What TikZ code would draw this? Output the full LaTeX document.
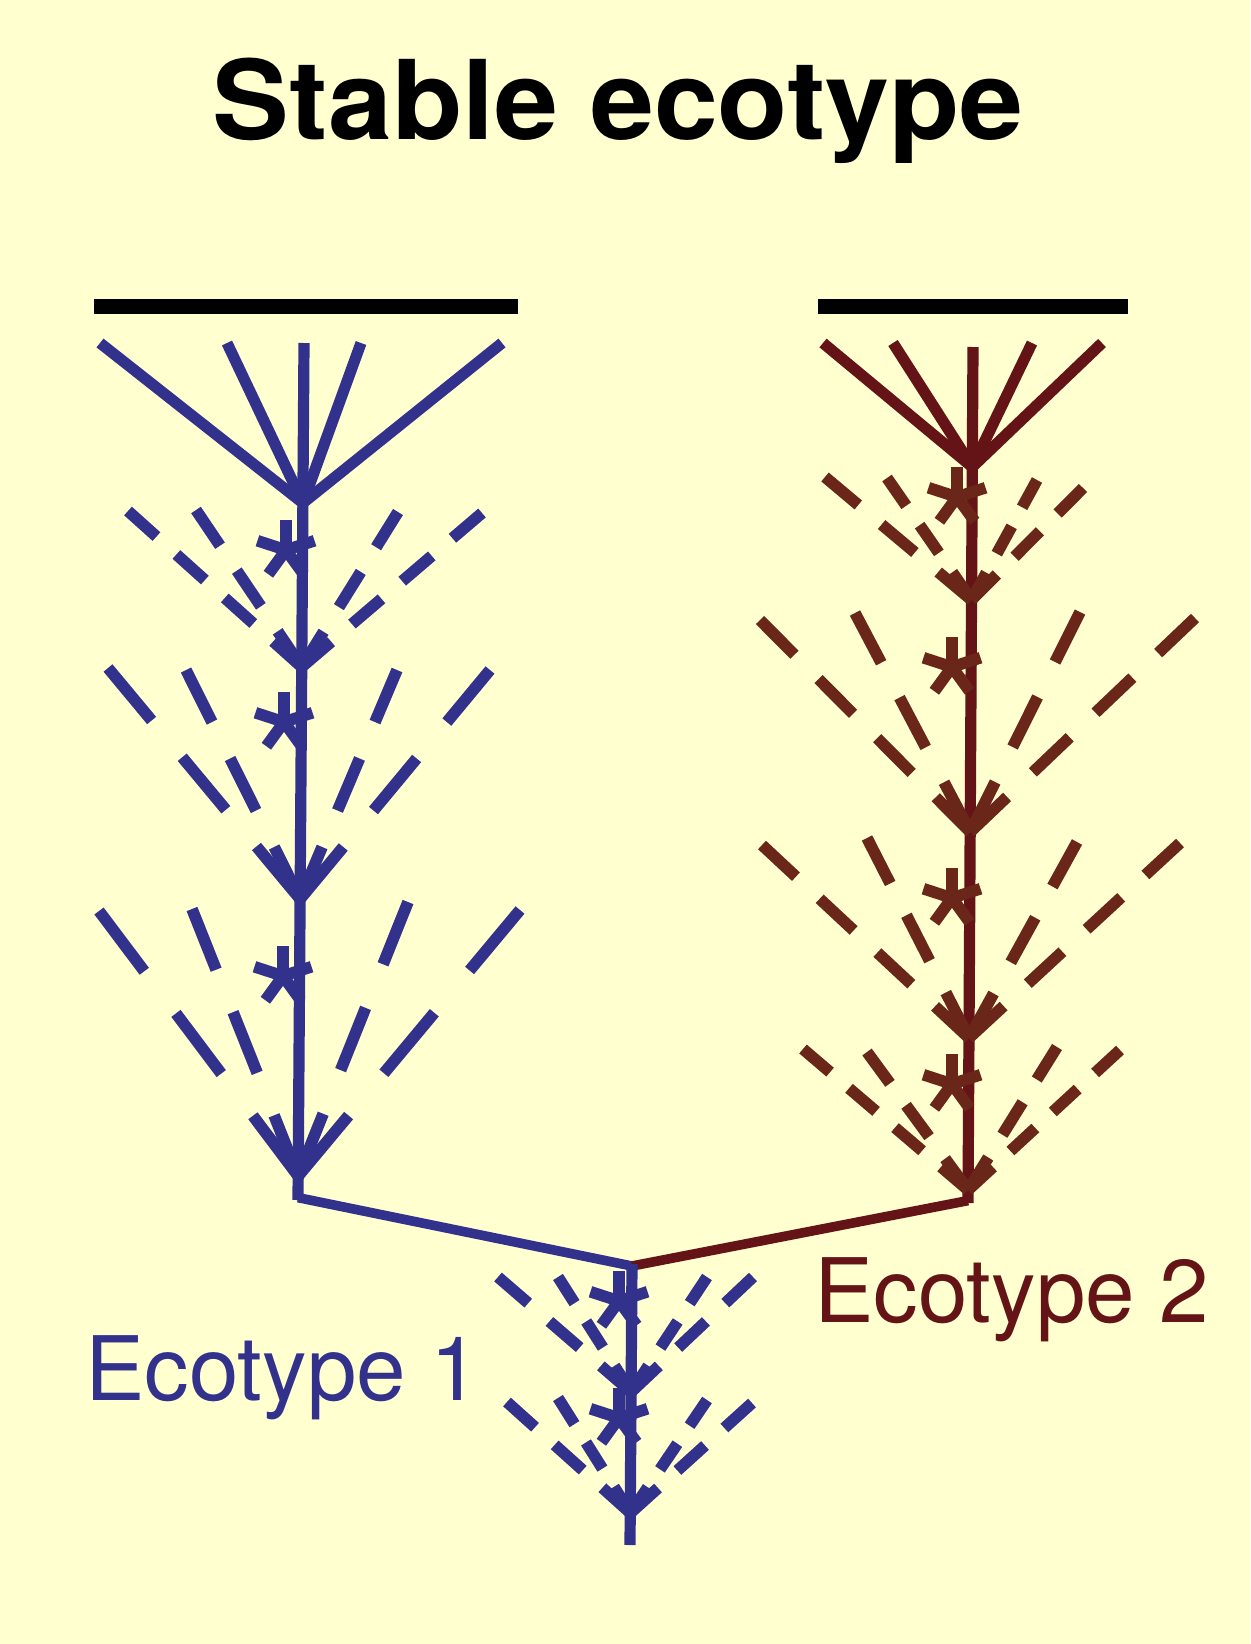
\documentclass[tikz,border=0pt]{standalone}
\usepackage{fontspec}
\setmainfont{TeX Gyre Heros}
\definecolor{bgcol}{RGB}{255,255,208}
\definecolor{eblue}{RGB}{50,50,140}
\definecolor{ered}{RGB}{100,20,22}
\definecolor{eredd}{RGB}{106,38,24}
\newcommand\dashln[6]{%
  \pgfmathsetmacro\dlL{veclen((#3-#1)/100,(#4-#2)/100)*100}%
  \pgfmathsetmacro\dlD{0.5*\dlL/(#5+0.7*(#5-1))}%
  \pgfmathsetmacro\dlG{0.7*\dlD}%
  \draw[#6, dash pattern=on \dlD pt off \dlG pt] (#1,#2) -- (#3,#4);}
\newcommand\astr[3]{%
  \foreach \aa in {90,18,162,234,306}
    \draw[#3] (#1,#2) -- ++({30*cos(\aa)},{-30*sin(\aa)});}
\begin{document}
\begin{tikzpicture}[x=0.5pt,y=-0.5pt,line cap=butt,
  solb/.style={draw=eblue,line width=5.6pt},
  dasb/.style={draw=eblue,line width=5.8pt},
  solr/.style={draw=ered,line width=5.6pt},
  dasr/.style={draw=eredd,line width=5.8pt},
  bar/.style={draw=black,line width=7.5pt},
  lab/.style={anchor=base west,inner sep=0pt,font=\fontsize{44.5}{50}\selectfont}]
\fill[bgcol] (0,0) rectangle (1250,1644);
% title
\node[anchor=base,inner sep=0pt,font=\bfseries\fontsize{55}{62}\selectfont,xscale=1.045] (title) at (618,139) {Stable ecotype};
% bars
\draw[bar] (94,306.5) -- (518,306.5);
\draw[bar] (818,306.5) -- (1128,306.5);
% ---------- blue lineage ----------
\foreach \x in {100,227,361,502} \draw[solb] (\x,343) -- (302.9,503);
\draw[solb] (304,343) -- (298,1200);
\draw[solb,line width=4.8pt] (298,1197.6) -- (632,1266);
% stage 1
\dashln{301.7}{667}{128}{511}{4}{dasb}
\dashln{301.7}{667}{196}{510}{3}{dasb}
\dashln{301.7}{667}{398}{512}{3}{dasb}
\dashln{301.7}{667}{482}{513}{4}{dasb}
\astr{286}{550}{dasb}
% stage 2
\dashln{300.1}{899}{108}{668}{3}{dasb}
\dashln{300.1}{899}{186}{670}{3}{dasb}
\dashln{300.1}{899}{397}{670}{3}{dasb}
\dashln{300.1}{899}{490}{670}{3}{dasb}
\astr{284}{722}{dasb}
% stage 3
\dashln{298.2}{1176}{99}{911}{3}{dasb}
\dashln{298.2}{1176}{192}{909}{3}{dasb}
\dashln{298.2}{1176}{408}{902}{3}{dasb}
\dashln{298.2}{1176}{520}{910}{3}{dasb}
\astr{283}{976}{dasb}
% ---------- red lineage ----------
\foreach \x in {823,893,1032,1102} \draw[solr] (\x,343) -- (972.3,467);
\draw[solr] (973,347) -- (968,1203);
\draw[solr,line width=4.8pt] (968,1200.6) -- (632,1266);
% stage 1
\dashln{971.5}{600}{825}{477}{3}{dasr}
\dashln{971.5}{600}{887}{478}{3}{dasr}
\dashln{971.5}{600}{1037}{480}{3}{dasr}
\dashln{971.5}{600}{1083}{488}{3}{dasr}
\astr{957}{497}{dasr}
% stage 2
\dashln{970.2}{832}{760}{620}{4}{dasr}
\dashln{970.2}{832}{855}{613}{3}{dasr}
\dashln{970.2}{832}{1080}{612}{3}{dasr}
\dashln{970.2}{832}{1195}{618}{4}{dasr}
\astr{952}{667}{dasr}
% stage 3
\dashln{969}{1038}{762}{845}{4}{dasr}
\dashln{969}{1038}{867}{838}{3}{dasr}
\dashln{969}{1038}{1077}{842}{3}{dasr}
\dashln{969}{1038}{1180}{843}{4}{dasr}
\astr{952}{898}{dasr}
% stage 4
\dashln{968.1}{1190}{803}{1049}{4}{dasr}
\dashln{968.1}{1190}{867}{1052}{3}{dasr}
\dashln{968.1}{1190}{1057}{1047}{3}{dasr}
\dashln{968.1}{1190}{1120}{1050}{4}{dasr}
\astr{952}{1084}{dasr}
% ---------- descendant (blue) ----------
\draw[solb] (632,1264) -- (630,1545);
\dashln{631.1}{1392}{498}{1277}{3}{dasb}
\dashln{631.1}{1392}{558}{1277}{3}{dasb}
\dashln{631.1}{1392}{707}{1277}{3}{dasb}
\dashln{631.1}{1392}{753}{1277}{3}{dasb}
\astr{619}{1301}{dasb}
\dashln{630.4}{1513}{507}{1402}{3}{dasb}
\dashln{630.4}{1513}{558}{1398}{3}{dasb}
\dashln{630.4}{1513}{707}{1400}{3}{dasb}
\dashln{630.4}{1513}{752}{1403}{3}{dasb}
\astr{619}{1418}{dasb}
% labels
\node[lab,text=eblue] (eco1) at (85,1400) {Ecotype 1};
\node[lab,text=ered] (eco2) at (814,1322) {Ecotype 2};
\end{tikzpicture}
\end{document}
